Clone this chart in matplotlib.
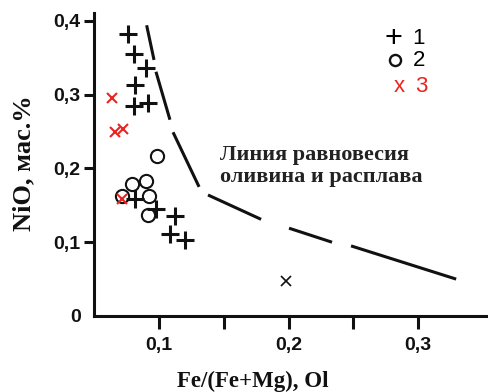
import matplotlib
matplotlib.use("Agg")
import matplotlib.pyplot as plt

# olivine compositions, group 1 (+)
plus_x = [0.076, 0.0805, 0.090, 0.081, 0.0805, 0.0915, 0.081, 0.0975, 0.112, 0.108, 0.120]
plus_y = [0.382, 0.355, 0.336, 0.313, 0.284, 0.288, 0.158, 0.145, 0.136, 0.111, 0.103]

# group 2 (o)
circ_x = [0.0985, 0.079, 0.0895, 0.0715, 0.092, 0.091]
circ_y = [0.217, 0.179, 0.183, 0.162, 0.163, 0.137]

# group 3 (x)
cross_x = [0.0633, 0.0658, 0.0718, 0.0715]
cross_y = [0.295, 0.250, 0.254, 0.158]
cross_blk_x = [0.198]
cross_blk_y = [0.048]

# olivine-melt equilibrium line, vertices taken in pairs (one pair = one dash)
eq_x = [0.0903, 0.096, 0.0975, 0.1083, 0.1107, 0.1308, 0.1377, 0.1787, 0.2003, 0.2335, 0.2482, 0.3294]
eq_y = [0.394, 0.347, 0.331, 0.266, 0.249, 0.175, 0.164, 0.131, 0.119, 0.100, 0.095, 0.050]

xticks = [0.1, 0.2, 0.3]
xtick_labels = ["0,1", "0,2", "0,3"]
xminor = [0.15, 0.25]
yticks = [0, 0.1, 0.2, 0.3, 0.4]
ytick_labels = ["0", "0,1", "0,2", "0,3", "0,4"]

sans = "Liberation Sans"
serif = "Liberation Serif"
red = "#e8251f"
ink = "#111111"

fig = plt.figure(figsize=(4.88, 3.92), dpi=100)
ax = fig.add_axes([0.1936, 0.1939, 0.8064, 0.7729])
ax.set_xlim(0.05, 0.354)
ax.set_ylim(0, 0.4106)

for s in ["top", "right"]:
    ax.spines[s].set_visible(False)
for s in ["left", "bottom"]:
    ax.spines[s].set_linewidth(2.2)
    ax.spines[s].set_color(ink)

ax.set_xticks(xticks)
ax.set_xticklabels(xtick_labels)
ax.set_xticks(xminor, minor=True)
ax.set_yticks(yticks)
ax.set_yticklabels(ytick_labels)
ax.tick_params(axis="x", which="both", direction="out", length=9, width=2.2,
               color=ink, pad=6)
ax.tick_params(axis="y", direction="out", length=7, width=2.2, color=ink, pad=3)
ax.yaxis.get_major_ticks()[0].tick1line.set_visible(False)
for lab in ax.get_xticklabels() + ax.get_yticklabels():
    lab.set_fontfamily(sans)
    lab.set_fontweight("bold")
    lab.set_fontsize(14)
    lab.set_color(ink)

# dashed equilibrium line
for i in range(0, len(eq_x), 2):
    ax.plot(eq_x[i:i + 2], eq_y[i:i + 2], color=ink, lw=2.2,
            solid_capstyle="butt", clip_on=False)

ax.plot(plus_x, plus_y, ls="none", marker="+", ms=13.5, mew=2.2, color=ink)
ax.plot(circ_x, circ_y, ls="none", marker="o", ms=9.5, mew=1.5, mfc="none", mec=ink)
ax.plot(cross_x, cross_y, ls="none", marker="x", ms=7.5, mew=1.5, color=red)
ax.plot(cross_blk_x, cross_blk_y, ls="none", marker="x", ms=7, mew=1.2, color=ink)

ax.text(0.147, 0.203, "Линия равновесия\nоливина и расплава", family=serif,
        fontweight="bold", fontsize=16, color="#222222", linespacing=1.1,
        va="center", ha="left")

# legend
fig.text(393 / 488, 1 - 39 / 392, "+", family=sans, fontsize=22, ha="center", va="center")
fig.text(418 / 488, 1 - 38 / 392, "1", family=sans, fontsize=16, ha="center", va="center")
fig.lines.append(plt.Line2D([395 / 488], [1 - 60 / 392], transform=fig.transFigure,
                            marker="o", ms=8, mew=1.7, mfc="none", mec=ink, ls="none"))
fig.text(419 / 488, 1 - 60 / 392, "2", family=sans, fontsize=16, ha="center", va="center")
fig.text(399 / 488, 1 - 86 / 392, "x", family=sans, fontsize=16, ha="center", va="center",
         color=red)
fig.text(421 / 488, 1 - 86 / 392, "3", family=sans, fontsize=16, ha="center", va="center",
         color=red)

fig.text(253 / 488, 1 - 381 / 392, "Fe/(Fe+Mg), Ol", family=serif, fontweight="bold",
         fontsize=16.5, ha="center", va="center", color=ink)
fig.text(24 / 488, 1 - 163 / 392, "NiO, мас.%", family=serif, fontweight="bold",
         fontsize=19, ha="center", va="center", rotation=90, color=ink)

fig.savefig("out.png", dpi=100)
